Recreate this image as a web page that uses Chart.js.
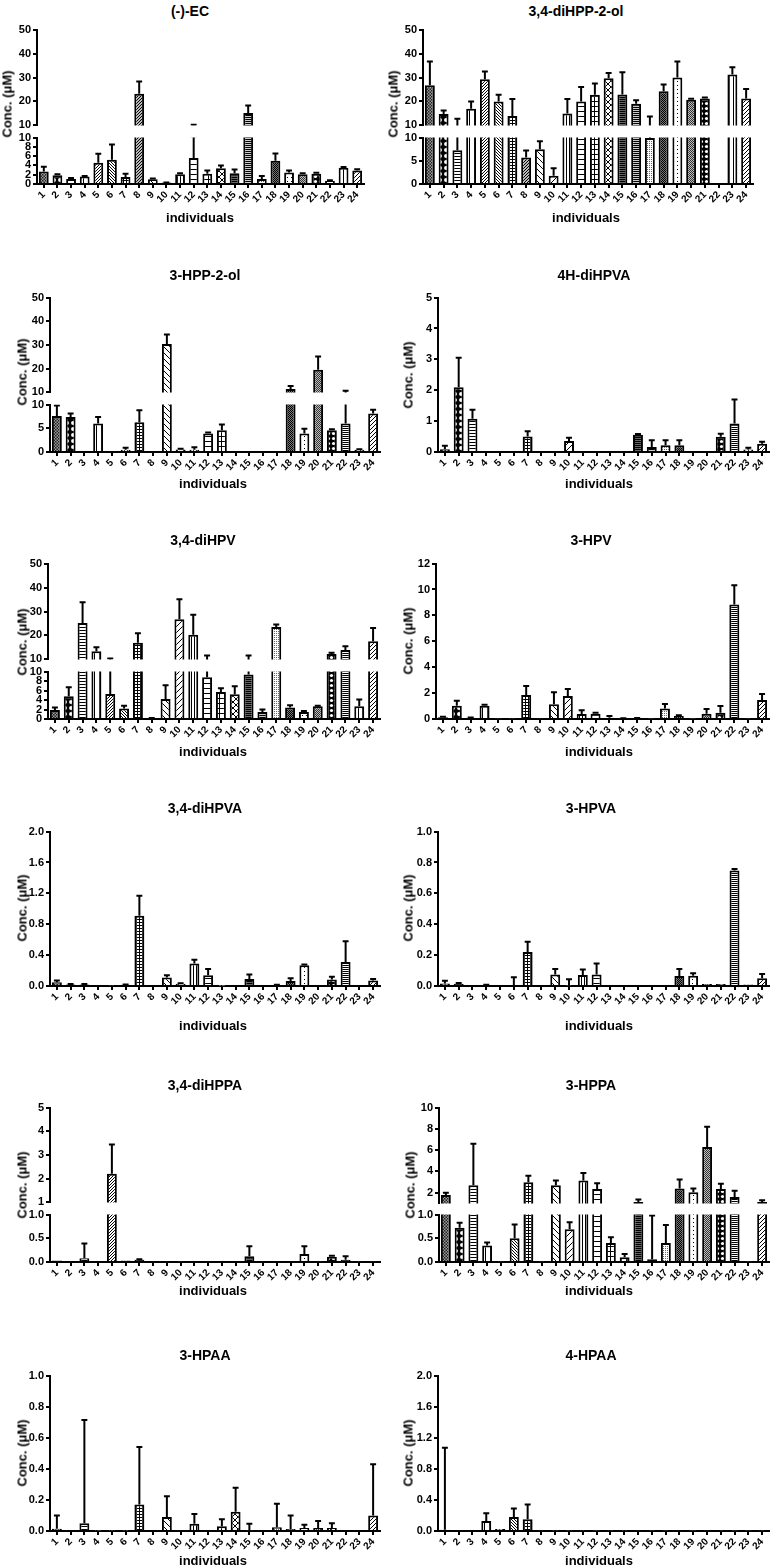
<html>
<head>
<script src="https://cdn.jsdelivr.net/npm/chart.js"></script>
<style>
  body { margin: 0; background: #fff; }
  #fig { position: relative; width: 773px; height: 1567px; font-family: "Liberation Sans", Arial, sans-serif; font-weight: bold; color: #000; }
  .t { position: absolute; transform: translate(-50%, -50%); white-space: nowrap; }
  .title { font-size: 14px; }
  .xl { font-size: 13px; }
  .yl { font-size: 13px; transform: translate(-50%, -50%) rotate(-90deg); }
  canvas { position: absolute; }
</style>
</head>
<body>
<div id="fig"></div>
<script>
// categories
const individuals = ['1','2','3','4','5','6','7','8','9','10','11','12','13','14','15','16','17','18','19','20','21','22','23','24'];

// mean and SD per individual
const ecMean = [2.7,1.9,1.1,1.6,4.6,5.2,1.5,23.2,1.05,0.3,2.1,5.6,2.2,3.4,2.3,15.2,1.1,5.0,2.5,2.1,2.2,0.7,3.5,2.9];
const ecSD   = [1.0,0.2,0.2,0.15,1.9,3.3,0.7,5.1,0.15,0.05,0.2,4.7,0.7,0.6,0.8,3.1,0.65,1.6,0.4,0.2,0.2,0.1,0.15,0.3];

const dihpp2olMean = [26.8,14.8,7.3,17.0,29.3,20.0,13.9,5.7,7.5,1.8,15.0,20.0,22.8,29.7,22.9,19.0,9.9,24.3,30.0,20.7,21.2,0,31.3,21.2];
const dihpp2olSD   = [9.9,1.4,5.5,3.0,3.2,2.8,7.1,1.5,1.7,1.6,6.0,6.0,4.7,2.2,9.3,1.5,3.8,2.8,6.7,0.4,0.4,0,3.0,4.0];

const hpp2olMean = [7.6,7.4,0,6.0,0,0.5,6.3,0,30.4,0.55,0.5,3.9,4.6,0,0,0,0,11.4,3.9,19.6,4.6,6.0,0.5,8.1];
const hpp2olSD   = [2.2,0.7,0,1.4,0,0.4,2.5,0,4.0,0.15,0.5,0.2,1.2,0,0,0,0,1.3,1.0,5.6,0.2,4.7,0.1,0.8];

const hdihpvaMean = [0.09,2.1,1.08,0,0,0,0.5,0,0,0.36,0,0,0,0,0.56,0.16,0.22,0.22,0,0,0.49,0.92,0.08,0.27];
const hdihpvaSD   = [0.11,0.95,0.29,0,0,0,0.17,0,0,0.1,0,0,0,0,0.02,0.22,0.16,0.16,0,0,0.1,0.78,0.06,0.06];

const dihpvMean = [1.9,4.8,25.2,13.4,5.3,2.2,16.9,0.15,4.2,26.8,20.3,8.8,5.7,5.2,9.4,1.5,23.5,2.4,1.5,2.7,12.3,13.9,2.7,17.6];
const dihpvSD   = [0.5,1.9,8.7,1.7,5.1,0.6,4.0,0.05,2.9,8.3,8.3,2.8,0.8,1.7,2.2,0.5,1.1,0.5,0.2,0.1,0.5,1.6,1.4,5.5];

const hpvMean = [0.13,1.03,0.1,1.03,0.03,0.03,1.85,0.03,1.13,1.77,0.39,0.41,0.1,0.03,0.05,0.03,0.82,0.23,0.03,0.41,0.49,8.84,0.03,1.47];
const hpvSD   = [0.05,0.38,0.02,0.07,0,0,0.7,0,0.93,0.54,0.28,0.08,0.13,0.02,0.03,0,0.34,0.05,0,0.36,0.51,1.49,0,0.46];

const dihpvaMean = [0.05,0.02,0.02,0.01,0.005,0.015,0.91,0,0.11,0.03,0.29,0.14,0.003,0.01,0.09,0.005,0.01,0.065,0.27,0.013,0.085,0.31,0.01,0.07];
const dihpvaSD   = [0.02,0.005,0.005,0,0,0.005,0.26,0,0.03,0.005,0.05,0.08,0,0,0.06,0,0.005,0.035,0.01,0,0.035,0.27,0,0.02];

const hpvaMean = [0.017,0.015,0.003,0.006,0,0.006,0.22,0,0.075,0.002,0.071,0.075,0.006,0,0.004,0.002,0,0.064,0.067,0.013,0.013,0.748,0.01,0.05];
const hpvaSD   = [0.017,0.005,0,0.002,0,0.05,0.066,0,0.035,0.041,0.036,0.071,0,0,0,0,0,0.046,0.015,0,0,0.009,0,0.027];

const dihppaMean = [0.03,0.02,0.08,0.02,2.21,0.03,0.05,0,0,0.015,0,0,0.02,0,0.12,0,0,0,0.17,0.015,0.11,0.05,0.015,0.015];
const dihppaSD   = [0,0,0.31,0,1.23,0,0.01,0,0,0,0,0,0,0,0.21,0,0,0,0.16,0,0.02,0.07,0,0];

const hppaMean = [1.8,0.72,2.7,0.35,0.01,0.5,2.98,0.01,2.7,0.69,3.15,2.35,0.4,0.1,1.12,0.06,0.4,2.4,2.05,6.3,2.35,1.6,0.01,1.12];
const hppaSD   = [0.2,0.11,3.9,0.06,0,0.29,0.62,0,0.45,0.15,0.7,0.55,0.12,0.07,0.25,0.92,0.38,0.85,0.35,1.9,0.5,0.6,0,0.18];

const hpaaMean = [0.015,0,0.05,0.002,0.002,0.002,0.17,0,0.09,0,0.047,0,0.03,0.124,0.002,0,0.024,0.013,0.02,0.02,0.02,0,0,0.1];
const hpaaSD   = [0.085,0,0.665,0,0,0,0.37,0,0.133,0,0.063,0,0.045,0.154,0.045,0,0.152,0.087,0.02,0.045,0.03,0,0,0.33];

const hpaa4Mean = [0.017,0,0,0.13,0.026,0.18,0.15,0.005,0.005,0.005,0.005,0.005,0.005,0.005,0.005,0.005,0.005,0.005,0.005,0.005,0.005,0.005,0.005,0.005];
const hpaa4SD   = [1.053,0,0,0.1,0,0.11,0.19,0,0,0,0,0,0,0,0,0,0,0,0,0,0,0,0,0];

// tick labels
const ticks10to50 = ['10','20','30','40','50'];
const ticks0to10by2 = ['0','2','4','6','8','10'];
const ticks0to10by5 = ['0','5','10'];
const ticks0to5 = ['0','1','2','3','4','5'];
const ticks0to12 = ['0','2','4','6','8','10','12'];
const ticks0to2 = ['0.0','0.4','0.8','1.2','1.6','2.0'];
const ticks0to1 = ['0.0','0.2','0.4','0.6','0.8','1.0'];
const ticks1to5 = ['1','2','3','4','5'];
const ticks2to10 = ['2','4','6','8','10'];
const ticks0to1by05 = ['0.0','0.5','1.0'];

Chart.defaults.font.family = '"Liberation Sans", Arial, sans-serif';
Chart.defaults.font.weight = 'bold';
Chart.defaults.font.size = 11;
Chart.defaults.color = '#000';

// hatch fills, one per individual
const patCtx = document.createElement('canvas').getContext('2d');
function hatch(kind, s, fg, bg) {
  const c = document.createElement('canvas');
  c.width = c.height = s;
  const g = c.getContext('2d');
  g.fillStyle = bg || '#fff';
  g.fillRect(0, 0, s, s);
  g.fillStyle = fg || '#000';
  g.strokeStyle = fg || '#000';
  g.lineWidth = 1;
  if (kind === 'h') g.fillRect(0, 0, s, 1);
  else if (kind === 'v') g.fillRect(0, 0, 1, s);
  else if (kind === 'grid') { g.fillRect(0, 0, s, 1); g.fillRect(0, 0, 1, s); }
  else if (kind === 'dot') g.fillRect(0, 0, 1, 1);
  else if (kind === 'checker') { g.fillRect(0, 0, s / 2, s / 2); g.fillRect(s / 2, s / 2, s / 2, s / 2); }
  else if (kind === 'ring') {
    g.fillStyle = '#000'; g.fillRect(0, 0, s, s);
    g.fillStyle = '#fff'; g.beginPath(); g.arc(s / 2, s / 2, s * 0.32, 0, Math.PI * 2); g.fill();
  } else {
    g.beginPath();
    if (kind === '/' || kind === 'x') { g.moveTo(-1, s + 1); g.lineTo(s + 1, -1); g.moveTo(-1, 1); g.lineTo(1, -1); g.moveTo(s - 1, s + 1); g.lineTo(s + 1, s - 1); }
    if (kind === '\\' || kind === 'x') { g.moveTo(-1, -1); g.lineTo(s + 1, s + 1); g.moveTo(s - 1, -1); g.lineTo(s + 1, 1); g.moveTo(-1, s - 1); g.lineTo(1, s + 1); }
    g.stroke();
  }
  return patCtx.createPattern(c, 'repeat');
}
const fills = [
  hatch('checker', 3, '#222', '#999'), hatch('ring', 6), hatch('h', 3), hatch('v', 5),
  hatch('/', 3), hatch('\\', 3), hatch('grid', 3), hatch('/', 3, '#000', '#bbb'),
  hatch('\\', 6), hatch('/', 6), hatch('v', 3), hatch('h', 5),
  hatch('grid', 5), hatch('x', 6), hatch('h', 2, '#000', '#666'), hatch('h', 2, '#000', '#ccc'),
  hatch('dot', 2, '#666', '#fff'), hatch('checker', 2, '#000', '#777'), hatch('dot', 4), hatch('checker', 2, '#333', '#bbb'),
  hatch('ring', 5), hatch('h', 2), hatch('v', 4), hatch('/', 4)
];

// mean + SD whiskers, clipped to each segment of a broken axis
const errorBars = {
  id: 'errorBars',
  afterDatasetsDraw(chart) {
    const { ctx, chartArea: a, scales: { y } } = chart;
    const ds = chart.data.datasets[0];
    const meta = chart.getDatasetMeta(0);
    ctx.save();
    ctx.beginPath();
    ctx.rect(a.left, a.top, a.right - a.left, a.bottom - a.top);
    ctx.clip();
    ctx.strokeStyle = '#000';
    ctx.lineWidth = 2;
    meta.data.forEach((bar, i) => {
      const sd = ds.sd[i];
      const top = ds.data[i] + sd;
      if (!sd || top <= y.min) return;
      const y0 = y.getPixelForValue(ds.data[i]);
      const y1 = y.getPixelForValue(top);
      const hw = bar.width * 0.3;
      ctx.beginPath();
      ctx.moveTo(bar.x, y0); ctx.lineTo(bar.x, y1);
      ctx.moveTo(bar.x - hw, y1); ctx.lineTo(bar.x + hw, y1);
      ctx.stroke();
    });
    ctx.restore();
  }
};

const YW = 34, PT = 8, PR = 6, PB = 8, XH = 34;
const fig = document.getElementById('fig');

function segment(p, seg, hasX) {
  const w = p.x1 - p.x0 + YW + PR;
  const h = seg.bottom - seg.top + PT + (hasX ? XH : PB);
  const cv = document.createElement('canvas');
  cv.width = w; cv.height = h;
  cv.style.left = (p.x0 - YW) + 'px';
  cv.style.top = (seg.top - PT) + 'px';
  fig.appendChild(cv);
  const axisGrid = { drawOnChartArea: false, tickLength: 4, color: '#000', lineWidth: 2 };
  new Chart(cv, {
    type: 'bar',
    data: {
      labels: individuals,
      datasets: [{
        data: p.mean, sd: p.sd,
        backgroundColor: fills, borderColor: '#000', borderWidth: 2,
        barPercentage: 0.72, categoryPercentage: 1, clip: 0
      }]
    },
    options: {
      responsive: false, animation: false,
      layout: { padding: { top: PT, right: PR, bottom: hasX ? 0 : PB, left: 0 } },
      plugins: { legend: { display: false }, tooltip: { enabled: false } },
      scales: {
        x: {
          display: hasX,
          afterFit: s => { if (hasX) s.height = XH; },
          ticks: { autoSkip: false, minRotation: 45, maxRotation: 45, padding: 1, font: { size: 10 } },
          grid: Object.assign({ offset: false }, axisGrid),
          border: { color: '#000', width: 2 }
        },
        y: {
          min: seg.min, max: seg.max,
          afterFit: s => { s.width = YW; },
          afterBuildTicks: s => { s.ticks = seg.ticks.map(v => ({ value: parseFloat(v) })); },
          ticks: { autoSkip: false, padding: 2, callback: (v, i) => seg.ticks[i] },
          grid: axisGrid,
          border: { color: '#000', width: 2 }
        }
      }
    },
    plugins: [errorBars]
  });
}

function text(cls, str, x, y) {
  const d = document.createElement('div');
  d.className = 't ' + cls;
  d.textContent = str;
  d.style.left = x + 'px';
  d.style.top = y + 'px';
  fig.appendChild(d);
}

const panels = [
  { name: '(-)-EC', mean: ecMean, sd: ecSD, x0: 37, x1: 364, tx: 190, ty: 11, yx: 7, yy: 104, xx: 200, xy: 217,
    upper: { top: 29, bottom: 126, min: 10, max: 50, ticks: ticks10to50 },
    lower: { top: 137, bottom: 184, min: 0, max: 10, ticks: ticks0to10by2 } },
  { name: '3,4-diHPP-2-ol', mean: dihpp2olMean, sd: dihpp2olSD, x0: 423, x1: 753, tx: 576, ty: 11, yx: 393, yy: 104, xx: 586, xy: 217,
    upper: { top: 29, bottom: 126, min: 10, max: 50, ticks: ticks10to50 },
    lower: { top: 137, bottom: 184, min: 0, max: 10, ticks: ticks0to10by5 } },
  { name: '3-HPP-2-ol', mean: hpp2olMean, sd: hpp2olSD, x0: 50, x1: 380, tx: 205, ty: 275, yx: 22, yy: 372, xx: 213, xy: 483,
    upper: { top: 297, bottom: 393, min: 10, max: 50, ticks: ticks10to50 },
    lower: { top: 404, bottom: 452, min: 0, max: 10, ticks: ticks0to10by5 } },
  { name: '4H-diHPVA', mean: hdihpvaMean, sd: hdihpvaSD, x0: 438, x1: 769, tx: 594, ty: 275, yx: 408, yy: 375, xx: 599, xy: 483,
    lower: { top: 297, bottom: 452, min: 0, max: 5, ticks: ticks0to5 } },
  { name: '3,4-diHPV', mean: dihpvMean, sd: dihpvSD, x0: 48, x1: 380, tx: 203, ty: 540, yx: 22, yy: 642, xx: 213, xy: 751,
    upper: { top: 563, bottom: 660, min: 10, max: 50, ticks: ticks10to50 },
    lower: { top: 671, bottom: 719, min: 0, max: 10, ticks: ticks0to10by2 } },
  { name: '3-HPV', mean: hpvMean, sd: hpvSD, x0: 436, x1: 769, tx: 591, ty: 540, yx: 408, yy: 641, xx: 599, xy: 751,
    lower: { top: 563, bottom: 719, min: 0, max: 12, ticks: ticks0to12 } },
  { name: '3,4-diHPVA', mean: dihpvaMean, sd: dihpvaSD, x0: 50, x1: 380, tx: 205, ty: 808, yx: 22, yy: 908, xx: 213, xy: 1025,
    lower: { top: 831, bottom: 986, min: 0, max: 2, ticks: ticks0to2 } },
  { name: '3-HPVA', mean: hpvaMean, sd: hpvaSD, x0: 438, x1: 769, tx: 591, ty: 808, yx: 408, yy: 908, xx: 599, xy: 1025,
    lower: { top: 831, bottom: 986, min: 0, max: 1, ticks: ticks0to1 } },
  { name: '3,4-diHPPA', mean: dihppaMean, sd: dihppaSD, x0: 50, x1: 380, tx: 205, ty: 1085, yx: 22, yy: 1185, xx: 213, xy: 1290,
    upper: { top: 1107, bottom: 1203, min: 1, max: 5, ticks: ticks1to5 },
    lower: { top: 1214, bottom: 1262, min: 0, max: 1, ticks: ticks0to1by05 } },
  { name: '3-HPPA', mean: hppaMean, sd: hppaSD, x0: 439, x1: 769, tx: 591, ty: 1085, yx: 410, yy: 1185, xx: 599, xy: 1290,
    upper: { top: 1107, bottom: 1204, min: 1, max: 10, ticks: ticks2to10 },
    lower: { top: 1214, bottom: 1262, min: 0, max: 1, ticks: ticks0to1by05 } },
  { name: '3-HPAA', mean: hpaaMean, sd: hpaaSD, x0: 50, x1: 380, tx: 205, ty: 1355, yx: 22, yy: 1453, xx: 213, xy: 1560,
    lower: { top: 1375, bottom: 1531, min: 0, max: 1, ticks: ticks0to1 } },
  { name: '4-HPAA', mean: hpaa4Mean, sd: hpaa4SD, x0: 438, x1: 769, tx: 591, ty: 1355, yx: 408, yy: 1453, xx: 599, xy: 1560,
    lower: { top: 1375, bottom: 1531, min: 0, max: 2, ticks: ticks0to2 } }
];

panels.forEach(p => {
  if (p.upper) segment(p, p.upper, false);
  segment(p, p.lower, true);
  text('title', p.name, p.tx, p.ty);
  text('yl', 'Conc. (\u03bcM)', p.yx, p.yy);
  text('xl', 'individuals', p.xx, p.xy);
});
</script>
</body>
</html>
